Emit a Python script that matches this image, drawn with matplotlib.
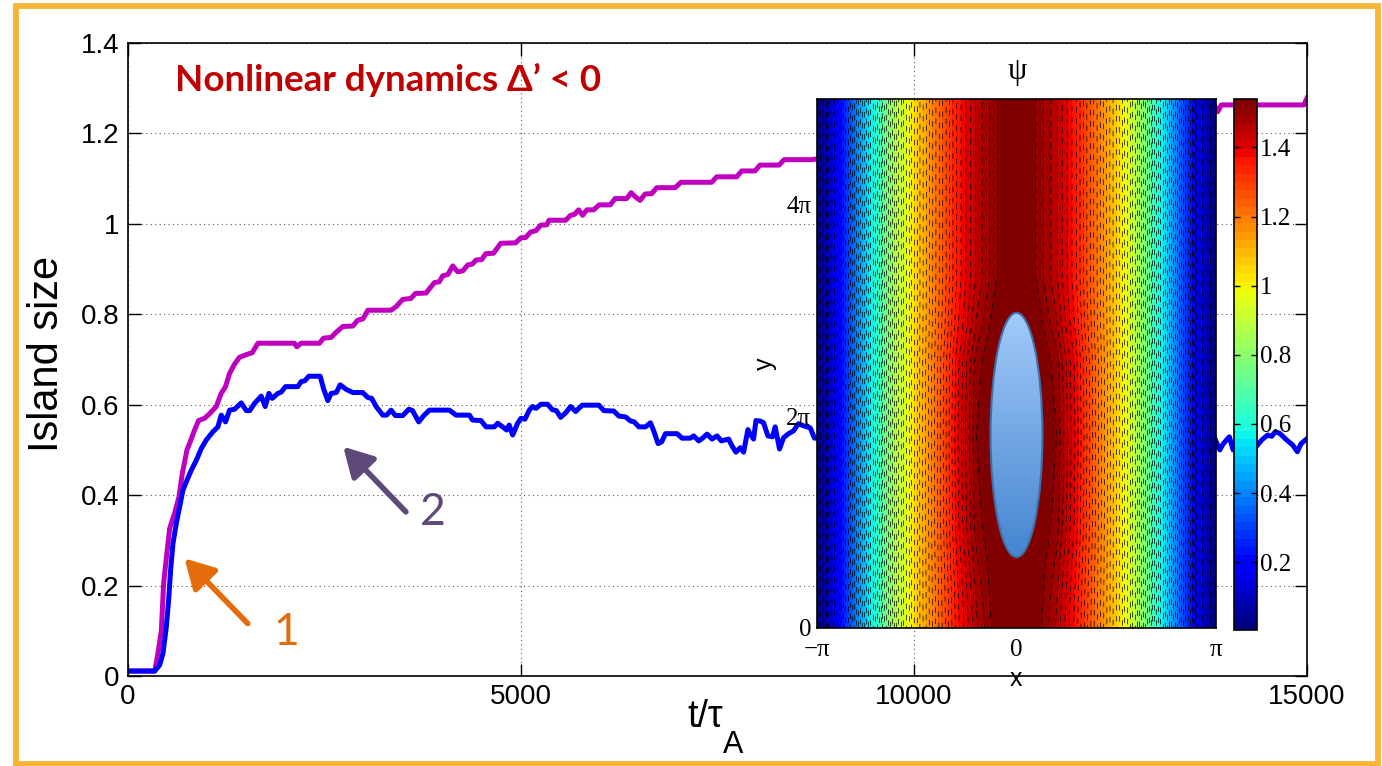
import numpy as np
import matplotlib
matplotlib.use("Agg")
import matplotlib.pyplot as plt
from matplotlib.patches import Ellipse, Rectangle
from matplotlib.colors import LinearSegmentedColormap

# island size vs t/tau_A
t_magenta = [0, 340, 381, 424, 453, 487, 530, 593, 648, 691, 750, 792, 847, 898, 975, 1038,
             1123, 1186, 1241, 1292, 1356, 1419, 1525, 1580, 1653, 2118, 2148, 2203, 2436,
             2487, 2585, 2648, 2733, 2860, 2923, 2990, 3051, 3347, 3411, 3496, 3600, 3656,
             3792, 3856, 3898, 3960, 4004, 4070, 4131, 4195, 4260, 4322, 4380, 4428, 4500,
             4551, 4650, 4742, 4932, 4996, 5060, 5123, 5190, 5250, 5330, 5356, 5568, 5631,
             5680, 5733, 5784, 5839, 5923, 5995, 6135, 6198, 6346, 6401, 6452, 6515, 6579,
             6664, 6727, 6960, 7036, 7426, 7490, 7744, 7808, 7977, 8040, 8282, 8349, 8696,
             9500, 10500, 11500, 12500, 13300, 13700, 13818, 13865, 13910, 14960, 15000]
w_magenta = [0.011, 0.011, 0.05, 0.10, 0.204, 0.26, 0.326, 0.36, 0.396, 0.448, 0.50, 0.518,
             0.544, 0.565, 0.570, 0.580, 0.596, 0.625, 0.640, 0.669, 0.690, 0.705, 0.712,
             0.715, 0.736, 0.736, 0.728, 0.736, 0.736, 0.747, 0.749, 0.760, 0.773, 0.774,
             0.787, 0.790, 0.809, 0.809, 0.817, 0.833, 0.835, 0.846, 0.847, 0.861, 0.870,
             0.872, 0.885, 0.888, 0.907, 0.894, 0.896, 0.909, 0.911, 0.920, 0.921, 0.934,
             0.935, 0.957, 0.958, 0.969, 0.970, 0.982, 0.985, 0.997, 0.998, 1.008, 1.008,
             1.019, 1.021, 1.031, 1.019, 1.031, 1.031, 1.042, 1.042, 1.056, 1.056, 1.069,
             1.060, 1.052, 1.066, 1.067, 1.080, 1.080, 1.092, 1.092, 1.104, 1.104, 1.117,
             1.117, 1.130, 1.130, 1.142, 1.142, 1.16, 1.19, 1.21, 1.235, 1.25, 1.263, 1.263,
             1.248, 1.263, 1.263, 1.278]

t_blue = [0, 340, 402, 445, 487, 517, 542, 572, 614, 657, 699, 750, 805, 869, 932, 996, 1080,
          1144, 1186, 1241, 1292, 1356, 1441, 1504, 1550, 1610, 1695, 1746, 1792, 1835, 1907,
          1950, 2004, 2161, 2203, 2250, 2301, 2445, 2487, 2542, 2585, 2650, 2699, 2775, 2860,
          2987, 3051, 3100, 3157, 3241, 3290, 3347, 3402, 3496, 3572, 3620, 3699, 3758, 3834,
          4089, 4173, 4343, 4385, 4491, 4555, 4661, 4703, 4767, 4817, 4850, 4894, 4957, 5000,
          5050, 5106, 5148, 5190, 5254, 5339, 5398, 5450, 5504, 5568, 5631, 5695, 5779, 5991,
          6054, 6181, 6245, 6330, 6393, 6440, 6499, 6584, 6647, 6689, 6744, 6790, 6838, 6986,
          7049, 7155, 7197, 7261, 7310, 7367, 7430, 7494, 7549, 7642, 7684, 7735, 7790, 7832,
          7887, 7917, 7959, 7989, 8040, 8086, 8141, 8200, 8234, 8289, 8340, 8404, 8467, 8531,
          8600, 8679, 8734, 9500, 10500, 11500, 12500, 13300, 13818, 13890, 13936, 14012,
          14060, 14200, 14352, 14424, 14500, 14550, 14595, 14650, 14741, 14817, 14877, 14925,
          15000]
w_blue = [0.011, 0.011, 0.024, 0.05, 0.108, 0.168, 0.234, 0.293, 0.337, 0.374, 0.411, 0.433,
          0.455, 0.477, 0.503, 0.522, 0.540, 0.551, 0.577, 0.562, 0.588, 0.590, 0.604, 0.587,
          0.587, 0.603, 0.619, 0.596, 0.625, 0.614, 0.625, 0.628, 0.640, 0.640, 0.651, 0.653,
          0.663, 0.663, 0.636, 0.609, 0.625, 0.627, 0.644, 0.634, 0.627, 0.627, 0.616, 0.614,
          0.596, 0.577, 0.577, 0.588, 0.576, 0.576, 0.590, 0.587, 0.562, 0.575, 0.588, 0.588,
          0.577, 0.577, 0.566, 0.565, 0.551, 0.551, 0.559, 0.551, 0.544, 0.555, 0.533, 0.559,
          0.570, 0.568, 0.588, 0.596, 0.592, 0.601, 0.601, 0.589, 0.587, 0.572, 0.582, 0.596,
          0.585, 0.599, 0.599, 0.587, 0.586, 0.575, 0.573, 0.564, 0.562, 0.551, 0.551, 0.560,
          0.542, 0.514, 0.518, 0.536, 0.536, 0.526, 0.526, 0.531, 0.520, 0.526, 0.535, 0.524,
          0.531, 0.520, 0.524, 0.509, 0.495, 0.505, 0.495, 0.545, 0.535, 0.524, 0.565, 0.564,
          0.560, 0.531, 0.529, 0.551, 0.502, 0.527, 0.536, 0.542, 0.558, 0.553, 0.549, 0.526,
          0.53, 0.52, 0.53, 0.52, 0.53, 0.529, 0.500, 0.514, 0.529, 0.500, 0.51, 0.507, 0.522,
          0.533, 0.530, 0.540, 0.537, 0.522, 0.511, 0.496, 0.514, 0.525]

# psi inset: profile across |x| (units of pi) and island bulge along y (units of pi)
psi_x = [0.0, 0.1, 0.2, 0.3, 0.4, 0.5, 0.6, 0.7, 0.8, 0.9, 1.0]
psi_profile = [1.54, 1.515, 1.45, 1.35, 1.21, 1.06, 0.88, 0.63, 0.40, 0.17, 0.005]
bulge_shape = [1.0, 1.0, 0.8, 0.45, 0.15, 0.0, 0.0, 0.0, 0.0, 0.0, 0.0]
psi_y = [0.0, 0.26, 0.6, 1.0, 1.83, 2.5, 2.85, 3.3, 4.0, 5.0]
bulge_amp = [0.018, 0.026, 0.045, 0.072, 0.083, 0.072, 0.029, 0.0, 0.0, 0.0]

cbar_ticks = [0.2, 0.4, 0.6, 0.8, 1.0, 1.2, 1.4]
cbar_labels = ["0.2", "0.4", "0.6", "0.8", "1", "1.2", "1.4"]

W, H = 1382, 766
fig = plt.figure(figsize=(W / 100, H / 100), dpi=100)
fig.patch.set_facecolor("white")

def fx(px):
    return px / W

def fy(py):
    return 1 - py / H

# ---- main axes
ax = fig.add_axes([fx(128), fy(676), fx(1307) - fx(128), fy(43) - fy(676)])
ax.plot(t_magenta, w_magenta, color="#BF00BF", lw=3.6, solid_joinstyle="round")
ax.plot(t_blue, w_blue, color="#0000FF", lw=3.6, solid_joinstyle="round")
ax.set_xlim(0, 15000)
ax.set_ylim(0, 1.4)
ax.set_xticks([0, 5000, 10000, 15000])
ax.set_xticklabels(["0", "5000", "10000", "15000"])
ax.set_yticks([0, 0.2, 0.4, 0.6, 0.8, 1.0, 1.2, 1.4])
ax.set_yticklabels(["0", "0.2", "0.4", "0.6", "0.8", "1", "1.2", "1.4"])
ax.grid(True, ls=(0, (1, 3)), color="0.35", lw=0.8)
ax.tick_params(direction="in", length=9, width=1, top=True, right=True, labelsize=20, pad=6)
for lab in ax.get_xticklabels() + ax.get_yticklabels():
    lab.set_family("Liberation Sans")
for s in ax.spines.values():
    s.set_linewidth(1.2)
ax.set_ylabel("Island size", fontsize=30, family="Liberation Sans")
ax.yaxis.set_label_coords(-0.052, 0.509)

fig.text(fx(687), fy(727), "t/\u03c4", fontsize=27, family="Liberation Sans", va="baseline")
fig.text(fx(723), fy(753), "A", fontsize=22, family="Liberation Sans", va="baseline")

fig.text(fx(175), fy(91), "Nonlinear dynamics \u0394\u2019 < 0", color="#C00000", fontsize=26.5,
         fontweight="bold", family=["Lato", "DejaVu Sans"], va="baseline")

# arrows and numbers
ax.annotate("", xy=(720, 0.26), xytext=(1524, 0.116),
            arrowprops=dict(arrowstyle="-|>,head_length=0.8,head_width=0.45", color="#E46C0A",
                            lw=4, mutation_scale=22, shrinkA=0, shrinkB=0))
ax.annotate("", xy=(2739, 0.507), xytext=(3536, 0.363),
            arrowprops=dict(arrowstyle="-|>,head_length=0.8,head_width=0.45", color="#5F497A",
                            lw=4, mutation_scale=22, shrinkA=0, shrinkB=0))
ax.text(2012, 0.097, "1", color="#E46C0A", fontsize=32, family=["Lato", "DejaVu Sans"],
        ha="center", va="center")
ax.text(3874, 0.361, "2", color="#5F497A", fontsize=32, family=["Lato", "DejaVu Sans"],
        ha="center", va="center")

# ---- inset: psi contours
ax_in = fig.add_axes([fx(817), fy(628), fx(1216) - fx(817), fy(99) - fy(628)])
xs = np.array(psi_x)
xgrid = np.concatenate([-xs[::-1], xs[1:]]) * np.pi
prof = np.array(psi_profile)
prof = np.concatenate([prof[::-1], prof[1:]])
bump = np.array(bulge_shape)
bump = np.concatenate([bump[::-1], bump[1:]])
ygrid = np.array(psi_y) * np.pi
Z = prof[None, :] + np.array(bulge_amp)[:, None] * bump[None, :]
Z = np.clip(Z, 0.004, 1.54)

levels = np.linspace(0.004, 1.54, 65)
cmap = matplotlib.colormaps["jet"].resampled(64)
cf = ax_in.contourf(xgrid, ygrid, Z, levels=levels, cmap=cmap)
line_levels = levels[1:-1]
# staggered dash phases so the dashes don't line up across neighbouring contours
dash_styles = [((i * i * 3 + i) % 16, (8, 8)) for i in range(len(line_levels))]
ax_in.contour(xgrid, ygrid, Z, levels=line_levels, colors="k", linewidths=0.5,
              linestyles=dash_styles)

# magnetic island drawn over the field
ecx, ecy, ew, eh = 0.0, 1.825 * np.pi, 0.26 * np.pi, 2.31 * np.pi
grad = LinearSegmentedColormap.from_list("isl", ["#4585D0", "#A2CBFA"])
ell_clip = Ellipse((ecx, ecy), ew, eh, transform=ax_in.transData)
im = ax_in.imshow(np.linspace(0, 1, 256)[:, None], cmap=grad, origin="lower", aspect="auto",
                  extent=[ecx - ew / 2, ecx + ew / 2, ecy - eh / 2, ecy + eh / 2], zorder=3)
im.set_clip_path(ell_clip)
ax_in.add_patch(Ellipse((ecx, ecy), ew, eh, fc="none", ec="#3E6FA8", lw=1.5, zorder=4))

ax_in.set_xlim(-np.pi, np.pi)
ax_in.set_ylim(0, 5 * np.pi)
ax_in.set_xticks([-np.pi, 0, np.pi])
ax_in.set_xticklabels(["\u2212\u03c0", "0", "\u03c0"])
ax_in.set_yticks([0, 2 * np.pi, 4 * np.pi])
ax_in.set_yticklabels(["0", "2\u03c0", "4\u03c0"])
ax_in.tick_params(length=0, labelsize=18, pad=8)
ax_in.tick_params(axis="y", pad=4)
for lab in ax_in.get_xticklabels() + ax_in.get_yticklabels():
    lab.set_family("Liberation Serif")
for s in ax_in.spines.values():
    s.set_linewidth(1.2)
ax_in.set_xlabel("x", fontsize=18, family="Liberation Sans")
ax_in.xaxis.set_label_coords(0.499, -0.074)
ax_in.set_ylabel("y", fontsize=18, family="Liberation Sans")
ax_in.yaxis.set_label_coords(-0.1, 0.499)
fig.text(fx(1017), fy(72), "\u03c8", fontsize=22, family="Liberation Serif", ha="center",
         va="center")

# colorbar
cax = fig.add_axes([fx(1234), fy(630), fx(1257) - fx(1234), fy(99) - fy(630)])
cb = fig.colorbar(cf, cax=cax)
cb.set_ticks(cbar_ticks)
cb.set_ticklabels(cbar_labels)
cb.outline.set_linewidth(1.2)
cax.tick_params(direction="in", left=True, right=True, length=4, width=1, labelsize=18, pad=2)
for lab in cax.get_yticklabels():
    lab.set_family("Liberation Serif")

# orange slide frame
fig.patches.append(Rectangle((fx(15.5), fy(764)), fx(1378) - fx(15.5), fy(6) - fy(764),
                             transform=fig.transFigure, fill=False, ec="#F7B538", lw=4.2))

fig.savefig("out.png", dpi=100)
